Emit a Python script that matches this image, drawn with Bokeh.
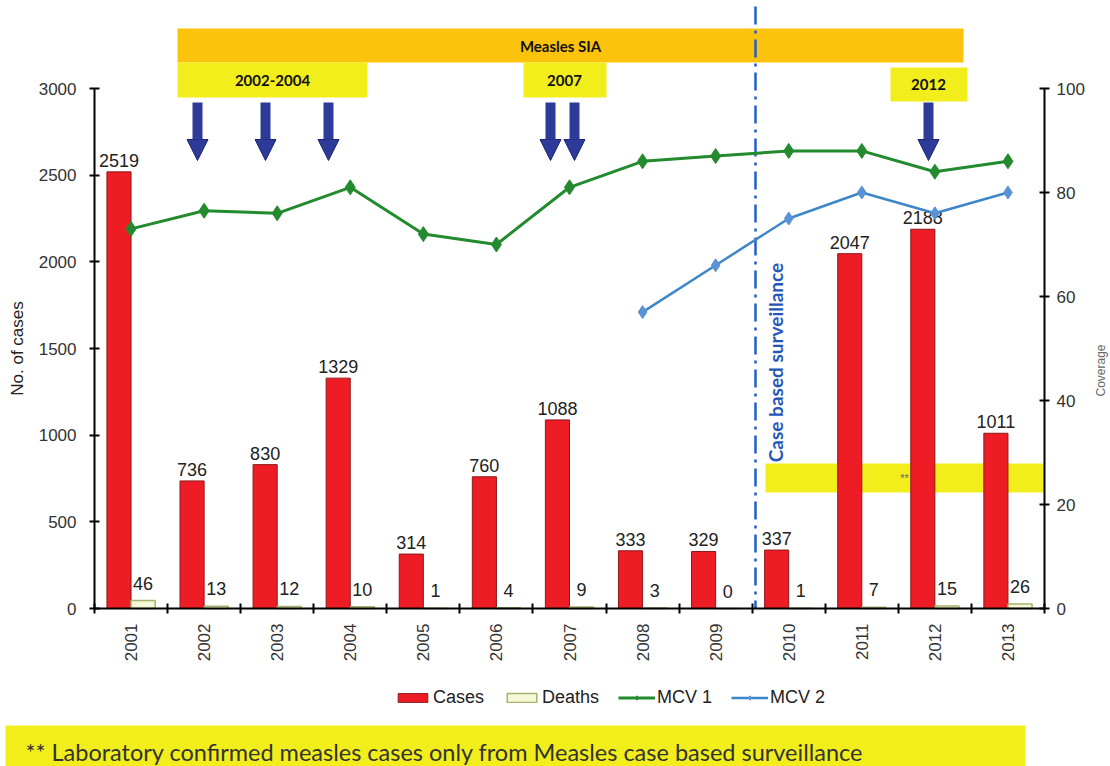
import math
from bokeh.plotting import figure
from bokeh.models import (Range1d, LinearAxis, FixedTicker, BoxAnnotation, Label, Arrow,
                          NormalHead, Legend, LegendItem, ColumnDataSource)
from bokeh.core.properties import value
from bokeh.transform import dodge
from bokeh.embed import file_html
from bokeh.resources import INLINE

# ---------------- data ----------------
years = list(range(2001, 2014))
year_labels = [str(y) for y in years]
cases = [2519, 736, 830, 1329, 314, 760, 1088, 333, 329, 337, 2047, 2188, 1011]
deaths = [46, 13, 12, 10, 1, 4, 9, 3, 0, 1, 7, 15, 26]
mcv1 = [73, 76.5, 76, 81, 72, 70, 81, 86, 87, 88, 88, 84, 86]
mcv2 = [float("nan")] * 7 + [57, 66, 75, 80, 76, 80]
left_ticks = [0, 500, 1000, 1500, 2000, 2500, 3000]
right_ticks = [0, 20, 40, 60, 80, 100]
legend_labels = ["Cases", "Deaths", "MCV 1", "MCV 2"]
footnote = "** Laboratory confirmed measles cases only from Measles case based surveillance"

# ---------------- layout (pixels of the 1110x766 page) ----------------
W, H = 1110, 766
PX_L, PX_R = 94, 1044        # category axis extent
PX_Y3000, PX_Y0 = 88, 608    # left axis 3000 and 0
sx = (PX_R - PX_L) / 13.0
sy = (PX_Y0 - PX_Y3000) / 3000.0

def X(px):
    return 2000.5 + (px - PX_L) / sx

def Y(py):
    return (PX_Y0 - py) / sy

# ---------------- styles ----------------
FONT = "Liberation Sans"
RED = "#EE1C25"
CREAM = "#F6F7D6"
GREEN = "#238A2E"
BLUE = "#3E86C8"
NAVY = "#2E3A99"
ORANGE = "#FBC30C"
YELLOW = "#F2EE1C"

p = figure(width=W, height=H, output_backend="svg", toolbar_location=None,
           x_range=Range1d(X(0), X(W)), y_range=Range1d(Y(H), Y(0)),
           min_border=0, outline_line_color=None, background_fill_color="white")
p.xgrid.visible = False
p.ygrid.visible = False
p.yaxis.visible = False
p.xaxis.visible = False
p.extra_y_ranges = {"cov": Range1d(Y(H) / 30.0, Y(0) / 30.0)}

src = ColumnDataSource(dict(year=years, cases=cases, deaths=deaths, mcv1=mcv1, mcv2=mcv2,
                            cases_lbl=[str(v) for v in cases], deaths_lbl=[str(v) for v in deaths]))

def style_axis(ax):
    ax.axis_line_color = "black"
    ax.axis_line_width = 2
    ax.major_tick_line_color = "black"
    ax.major_tick_line_width = 2
    ax.major_tick_in = 5
    ax.major_tick_out = 5
    ax.minor_tick_line_color = None
    ax.major_label_text_font = FONT
    ax.major_label_text_font_size = "17px"
    ax.major_label_text_color = "#333333"

yl = LinearAxis(bounds=(0, 3000), ticker=FixedTicker(ticks=left_ticks), axis_label="No. of cases",
                fixed_location=2000.5)
style_axis(yl)
yl.major_label_standoff = 13
yl.axis_label_standoff = 9
yl.axis_label_text_font = FONT
yl.axis_label_text_font_size = "17px"
yl.axis_label_text_font_style = "normal"
yl.axis_label_text_color = "#222222"
p.add_layout(yl, "left")

yr = LinearAxis(y_range_name="cov", bounds=(0, 100), ticker=FixedTicker(ticks=right_ticks),
                fixed_location=2013.5)
style_axis(yr)
yr.major_label_standoff = 7
p.add_layout(yr, "right")
p.add_layout(Label(x=X(1100), y=Y(370), text="Coverage", angle=math.pi / 2, text_align="center",
                   text_baseline="middle", text_font=FONT, text_font_size="12px",
                   text_color="#666666"))

xa = LinearAxis(ticker=FixedTicker(ticks=years, minor_ticks=[y + 0.5 for y in [2000] + years]),
                fixed_location=0, bounds=(2000.5, 2013.5))
style_axis(xa)
xa.major_tick_in = 0
xa.major_tick_out = 0
xa.minor_tick_line_color = "black"
xa.minor_tick_line_width = 2
xa.minor_tick_in = 5
xa.minor_tick_out = 5
xa.major_label_orientation = math.pi / 2
xa.major_label_standoff = 10
xa.major_label_overrides = {y: s for y, s in zip(years, year_labels)}
p.add_layout(xa, "below")

# SIA banner and period boxes
p.add_layout(BoxAnnotation(left=X(177), right=X(963), bottom=Y(62), top=Y(28),
                           fill_color=ORANGE, fill_alpha=1, line_color=None, level="underlay"))
for (l, r, t, b) in [(177, 367, 62, 97), (523, 606, 62, 97), (890, 967, 67, 101)]:
    p.add_layout(BoxAnnotation(left=X(l), right=X(r), bottom=Y(b), top=Y(t), fill_color=YELLOW,
                               fill_alpha=1, line_color=None, level="underlay"))
for txt, px, py in [("Measles SIA", 560, 45), ("2002-2004", 272, 80),
                    ("2007", 564, 80), ("2012", 928, 84)]:
    p.add_layout(Label(x=X(px), y=Y(py), text=txt, text_align="center", text_baseline="middle",
                       text_font="Lato", text_font_style="bold", text_font_size="15px",
                       text_color="#111111"))

# "**" box
p.add_layout(BoxAnnotation(left=X(765), right=2013.5, bottom=Y(492), top=Y(463), fill_color=YELLOW,
                           fill_alpha=1, line_color=None, level="underlay"))
p.add_layout(Label(x=X(904), y=Y(477), text="**", text_align="center", text_baseline="middle",
                   text_font=FONT, text_font_size="11px", text_color="#666666"))

# case-based surveillance divider
p.segment(x0=[X(755)], y0=[Y(6)], x1=[X(755)], y1=[0], line_color="#1F5FC8", line_width=2.5,
          line_dash="18 6 3 6")
p.add_layout(Label(x=X(775), y=Y(362), text="Case based surveillance", angle=math.pi / 2,
                   text_align="center", text_baseline="middle", text_font="Lato",
                   text_font_style="bold", text_font_size="19px", text_color="#2456B8"))

# SIA arrows
for px in [197, 265, 328, 550, 574, 928]:
    p.add_layout(Arrow(x_start=X(px), y_start=Y(102), x_end=X(px), y_end=Y(160), line_color=NAVY,
                       line_width=10,
                       end=NormalHead(size=21, fill_color=NAVY, line_color="#1C2670", line_width=1)))

# bars
r_cases = p.vbar(x=dodge("year", -0.165, range=p.x_range), top="cases", width=0.33, source=src,
                 fill_color=RED, line_color="#8A1A1A", line_width=1)
r_deaths = p.vbar(x=dodge("year", 0.165, range=p.x_range), top="deaths", width=0.33, source=src,
                  fill_color=CREAM, line_color="#A6B36E", line_width=1.5)
p.text(x=dodge("year", -0.165, range=p.x_range), y="cases", text="cases_lbl", source=src,
       text_align="center", text_baseline="bottom", y_offset=-5, text_font=value(FONT),
       text_font_size="18px", text_color="#222222")
p.text(x=dodge("year", 0.165, range=p.x_range), y="deaths", text="deaths_lbl", source=src,
       text_align="center", text_baseline="bottom", y_offset=-11, text_font=value(FONT),
       text_font_size="18px", text_color="#222222")

# coverage lines
l1 = p.line("year", "mcv1", source=src, y_range_name="cov", line_color=GREEN, line_width=3)
s1 = p.scatter("year", "mcv1", source=src, y_range_name="cov", marker="diamond", size=15,
               fill_color=GREEN, line_color=GREEN)
l2 = p.line("year", "mcv2", source=src, y_range_name="cov", line_color=BLUE, line_width=2.5)
s2 = p.scatter("year", "mcv2", source=src, y_range_name="cov", marker="diamond", size=13,
               fill_color="#5A92D6", line_color="#5A92D6")

legend = Legend(items=[LegendItem(label=legend_labels[0], renderers=[r_cases]),
                       LegendItem(label=legend_labels[1], renderers=[r_deaths]),
                       LegendItem(label=legend_labels[2], renderers=[l1, s1]),
                       LegendItem(label=legend_labels[3], renderers=[l2, s2])],
                orientation="horizontal", location=(394, H - 708), border_line_color=None,
                background_fill_alpha=0, padding=0, margin=0, spacing=19,
                label_standoff=2, glyph_width=37, glyph_height=11,
                label_text_font=FONT, label_text_font_size="18px", label_text_color="#222222")
p.add_layout(legend, "center")

# footnote
p.add_layout(BoxAnnotation(left=X(5), right=X(1025), bottom=Y(H + 5), top=Y(725),
                           fill_color=YELLOW, fill_alpha=1, line_color=None, level="underlay"))
p.add_layout(Label(x=X(25), y=Y(751), text=footnote, text_baseline="middle", text_font="Lato",
                   text_font_size="23.5px", text_color="#333333"))

open("out.html", "w").write(file_html(p, INLINE))
